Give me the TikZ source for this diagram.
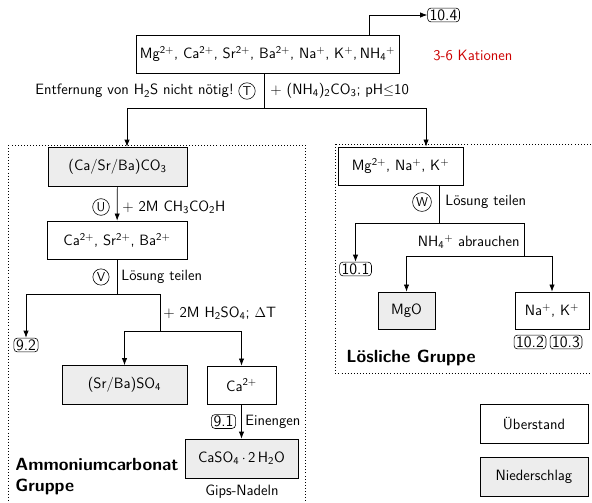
\documentclass[tikz,border=0pt]{standalone}
\usetikzlibrary{arrows.meta}
\renewcommand{\familydefault}{\sfdefault}
\begin{document}
\begin{tikzpicture}[x=0.85pt,y=-0.85pt,line width=0.6pt,>={Latex[length=6pt,width=4.5pt]},
	font=\fontsize{12.7}{15}\selectfont]
	\tikzstyle{every node}+=[inner sep=0pt]
	\tikzstyle{ueber}=[draw, fill=white, minimum height=32.3pt]
	\tikzstyle{nieder}=[draw, fill=black!7, minimum height=33pt]
	\tikzstyle{verweis}=[draw, rounded corners=3pt, inner xsep=1.8pt, inner ysep=1.2pt, line width=0.5pt, font=\fontsize{13.5}{15}\selectfont]
	\tikzstyle{schritt}=[draw, circle, inner sep=1.2pt, line width=0.5pt, font=\fontsize{11}{12}\selectfont]
	\tikzstyle{titel}=[anchor=west, font=\fontsize{15}{18}\selectfont\bfseries]
	\useasboundingbox (0,0) rectangle (592,502);

	% Gruppen
	\draw [dotted] (8,145) rectangle (305,520);
	\draw [dotted] (335,144) rectangle (610,373);
	\node [titel] (ammon) at (15,464) {Ammoniumcarbonat};
	\node [titel] (gruppe) at (15,487) {Gruppe};
	\node [titel] (loesl) at (346,358) {L\"osliche Gruppe};

	% Ausgangsloesung
	\node [ueber, minimum width=223.6pt] (alle) at (267.5,54) {Mg\textsuperscript{2+}, Ca\textsuperscript{2+}, Sr\textsuperscript{2+}, Ba\textsuperscript{2+}, Na\textsuperscript{+}, K\textsuperscript{+},\,NH\textsubscript{4}\textsuperscript{+}};
	\node [anchor=west, text=red!80!black] (kat) at (433,55) {3-6 Kationen};
	\node [verweis] (v104) at (443.5,15) {10.4};
	\coordinate (abzw) at (369,15);
	\draw [->] (alle.north -| abzw) |- (v104.west);

	\coordinate (tt) at (264,108);
	\draw (alle.south -| tt) -- (tt);
	\node [schritt] (kT) at (247,91) {T};
	\node [anchor=east] (entf) at (234,91) {Entfernung von H\textsubscript{2}S nicht n\"otig!};
	\node [anchor=west] (carb) at (270,91) {+ (NH\textsubscript{4})\textsubscript{2}CO\textsubscript{3}; pH$\leq$10};

	% Ammoniumcarbonat-Gruppe
	\node [nieder, minimum width=118.2pt] (ca1) at (117.5,166.5) {(Ca/Sr/Ba)CO\textsubscript{3}};
	\node [ueber, minimum width=119pt] (ca2) at (117,240) {Ca\textsuperscript{2+}, Sr\textsuperscript{2+}, Ba\textsuperscript{2+}};
	\node [nieder, minimum width=106.3pt] (srba) at (124.5,385) {(Sr/Ba)SO\textsubscript{4}};
	\node [ueber, minimum width=58.7pt] (ca3) at (241.5,385) {Ca\textsuperscript{2+}};
	\node [nieder, minimum width=96.1pt] (gips) at (241.5,458.5) {CaSO\textsubscript{4}\,$\cdot$\,2\,H\textsubscript{2}O};
	\node (nadeln) at (242,492) {Gips-Nadeln};
	\node [verweis] (v92) at (26,345) {9.2};
	\node [verweis] (v91) at (223.5,421.5) {9.1};

	\draw [->] (tt) -| ([xshift=8.1pt]ca1.north);
	\draw [->] (ca1) -- (ca2);
	\node [schritt] (kU) at (101,207) {U};
	\node [anchor=west] (essig) at (122,207) {+ 2M CH\textsubscript{3}CO\textsubscript{2}H};

	\coordinate (vv) at (117,294);
	\coordinate (hs) at (160,331);
	\draw (ca2.south) -- (vv);
	\draw [->] (vv) -| (v92.north);
	\draw (vv) -| (hs);
	\draw [->] (hs) -| (srba.north);
	\draw [->] (hs) -| (ca3.north);
	\node [schritt] (kV) at (101,277) {V};
	\node [anchor=west] (teil1) at (121,277) {L\"osung teilen};
	\node [anchor=west] (schwef) at (163,313) {+ 2M H\textsubscript{2}SO\textsubscript{4}; $\Delta$T};

	\draw [->] (ca3) -- (gips);
	\node [anchor=west] (eineng) at (245,421.5) {Einengen};

	% Loesliche Gruppe
	\node [ueber, minimum width=106.3pt] (mg1) at (400.5,166) {Mg\textsuperscript{2+}, Na\textsuperscript{+}, K\textsuperscript{+}};
	\node [nieder, minimum width=48.5pt, minimum height=31.5pt] (mgo) at (406.5,310.5) {MgO};
	\node [ueber, minimum width=62.9pt, minimum height=31.5pt] (nak) at (552,310.5) {Na\textsuperscript{+}, K\textsuperscript{+}};
	\node [verweis] (v101) at (355.5,269) {10.1};
	\node [verweis] (v102) at (530,342) {10.2};
	\node [verweis] (v103) at (566,342) {10.3};

	\draw [->] (tt) -| ([xshift=21.7pt]mg1.north);
	\coordinate (ww) at (439,223);
	\coordinate (nn) at (524,256);
	\draw (mg1.south -| ww) -- (ww);
	\draw [->] (ww) -| (v101.north);
	\draw (ww) -| (nn);
	\draw [->] (nn) -| (mgo.north);
	\draw [->] (nn) -| (nak.north);
	\node [schritt] (kW) at (422,202) {W};
	\node [anchor=west] (teil2) at (445,202) {L\"osung teilen};
	\node [anchor=east] (abr) at (520,242) {NH\textsubscript{4}\textsuperscript{+} abrauchen};

	% Legende
	\node [ueber, minimum width=91.8pt, minimum height=33pt] (leg1) at (534,423.5) {\"Uberstand};
	\node [nieder, minimum width=91.8pt] (leg2) at (534,476.5) {Niederschlag};
\end{tikzpicture}
\end{document}
